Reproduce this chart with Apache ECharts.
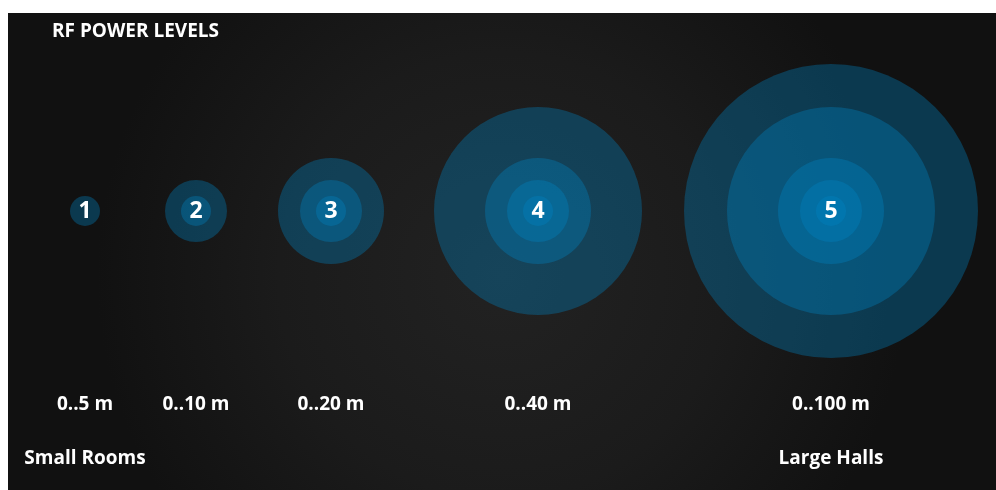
<!DOCTYPE html>
<html>
<head>
<meta charset="utf-8">
<script src="https://cdn.jsdelivr.net/npm/echarts@6/dist/echarts.min.js"></script>
<style>
html,body{margin:0;padding:0;background:#fff;}
#c{width:996px;height:490px;}
</style>
</head>
<body>
<div id="c"></div>
<script>
// ---- data ----
const levels = ['1', '2', '3', '4', '5'];
const rangeLabels = ['0..5 m', '0..10 m', '0..20 m', '0..40 m', '0..100 m'];
const levelPos = [85, 196, 331, 538, 831];          // x value of each level
const ringRadius = [15, 31, 53, 104, 147];          // radius of ring k
const sideLabels = ['Small Rooms', 'Large Halls'];
const sideLabelLevel = [0, 4];                      // level index each side label sits under
const titleText = 'RF POWER LEVELS';

// ---- layout rows (y values) ----
const rowCircle = 211, rowRange = 405, rowSide = 459;

const FONT = 'Open Sans';
const ringColor = 'rgba(0,132,195,0.35)';

const ringData = [];
levels.forEach((lv, i) => {
  for (let k = i; k >= 0; k--) {
    ringData.push({ value: [levelPos[i], rowCircle], symbolSize: ringRadius[k] * 2 });
  }
});
const numData = levels.map((lv, i) => ({ value: [levelPos[i], rowCircle], name: lv }));
const rangeData = rangeLabels.map((t, i) => ({ value: [levelPos[i], rowRange], name: t }));
const sideData = sideLabels.map((t, j) => ({ value: [levelPos[sideLabelLevel[j]], rowSide], name: t }));

function textSeries(data, size) {
  return {
    type: 'scatter', silent: true, symbolSize: 1,
    itemStyle: { color: 'rgba(0,0,0,0)', opacity: 1 },
    label: { show: true, position: 'inside', formatter: '{b}', color: '#ffffff', opacity: 1,
      textBorderWidth: 0, fontFamily: FONT, fontWeight: 'bold', fontSize: size },
    data: data
  };
}

const chart = echarts.init(document.getElementById('c'));
chart.setOption({
  backgroundColor: '#ffffff',
  animation: false,
  graphic: [{
    type: 'rect', z: -10, silent: true,
    shape: { x: 8, y: 13, width: 988, height: 477 },
    style: {
      fill: new echarts.graphic.RadialGradient(0.5, 0.55, 0.85, [
        { offset: 0, color: '#222222' },
        { offset: 0.55, color: '#1b1b1b' },
        { offset: 1, color: '#111111' }
      ])
    }
  }],
  title: {
    text: titleText, left: 52, top: 22, padding: 0,
    textStyle: { color: '#ffffff', fontFamily: FONT, fontWeight: 'bold', fontSize: 19 }
  },
  grid: { left: 0, right: 0, top: 0, bottom: 0 },
  xAxis: { type: 'value', min: 0, max: 996, show: false },
  yAxis: { type: 'value', min: 0, max: 490, inverse: true, show: false },
  series: [
    {
      type: 'scatter', silent: true,
      itemStyle: { color: ringColor, opacity: 1 },
      data: ringData
    },
    textSeries(numData, 23),
    textSeries(rangeData, 19),
    textSeries(sideData, 19)
  ]
});
</script>
</body>
</html>
